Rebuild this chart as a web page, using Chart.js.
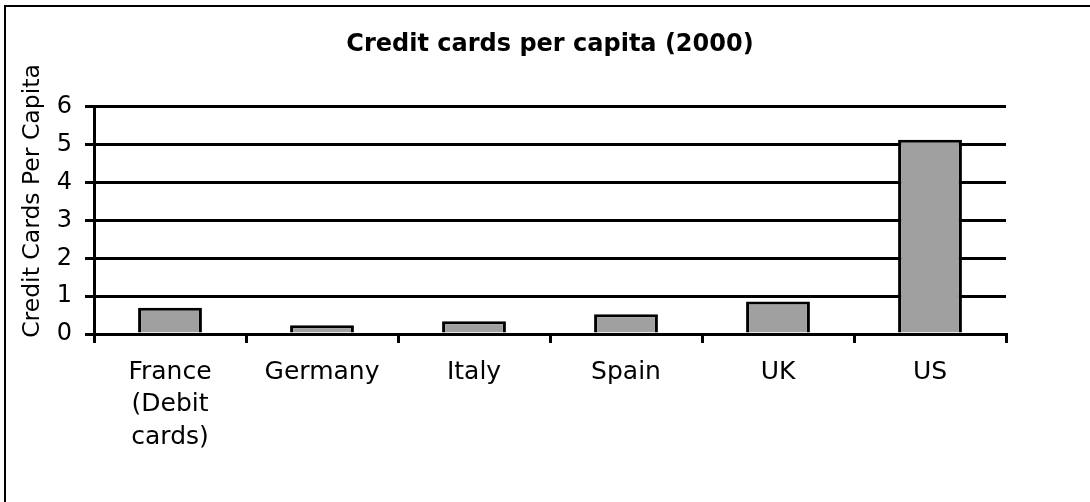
<!DOCTYPE html>
<html>
<head>
<meta charset="utf-8">
<script src="https://cdn.jsdelivr.net/npm/chart.js@4"></script>
<style>
  body { margin: 0; background: #fff; }
</style>
</head>
<body>
<canvas id="myChart" width="1090" height="502"></canvas>
<script>
const countries = [["France", "(Debit", "cards)"], "Germany", "Italy", "Spain", "UK", "US"];
const cardsPerCapita = [0.69, 0.23, 0.34, 0.52, 0.86, 5.13];
const yTicks = [0, 1, 2, 3, 4, 5, 6];
const yTitle = "Credit Cards Per Capita";

// white background, top/left frame lines and the y axis title
const frame = {
  id: "frame",
  beforeDraw(chart) {
    const c = chart.ctx;
    c.save();
    c.fillStyle = "#fff";
    c.fillRect(0, 0, chart.width, chart.height);
    c.fillStyle = "#000";
    c.fillRect(4, 5, chart.width - 4, 2);
    c.fillRect(4, 5, 2, chart.height - 5);
    c.restore();
  },
  afterDraw(chart) {
    const c = chart.ctx;
    c.save();
    c.translate(33, 201);
    c.rotate(-Math.PI / 2);
    c.fillStyle = "#000";
    c.font = "23.5px 'DejaVu Sans'";
    c.textAlign = "center";
    c.textBaseline = "middle";
    c.fillText(yTitle, 0, 0);
    c.restore();
  }
};

const ctx = document.getElementById("myChart").getContext("2d");
const myChart = new Chart(ctx, {
  type: "bar",
  data: {
    labels: countries,
    datasets: [
      {
        data: cardsPerCapita,
        backgroundColor: "#a0a0a0",
        borderColor: "#000",
        borderWidth: 3,
        categoryPercentage: 1,
        barPercentage: 0.42,
      },
    ],
  },
  options: {
    responsive: false,
    animation: false,
    layout: { padding: { left: 0, right: 84, top: 0, bottom: 8 } },
    plugins: {
      legend: { display: false },
      tooltip: { enabled: false },
      title: {
        display: true,
        fullSize: false,
        text: "Credit cards per capita (2000)",
        color: "#000",
        font: { family: "DejaVu Sans", size: 24, weight: "bold", lineHeight: 1.2 },
        padding: { top: 30, bottom: 48 },
      },
    },
    scales: {
      x: {
        grid: {
          drawOnChartArea: false,
          color: "#000",
          lineWidth: 3,
          tickLength: 9,
        },
        border: { color: "#000", width: 3 },
        ticks: {
          color: "#000",
          maxRotation: 0,
          autoSkip: false,
          padding: 13,
          font: { family: "DejaVu Sans", size: 25, lineHeight: 1.3 },
        },
        afterFit(scale) {
          scale.height = 160;
        },
      },
      y: {
        min: 0,
        max: 6,
        afterBuildTicks(scale) {
          scale.ticks = yTicks.map((v) => ({ value: v }));
        },
        grid: { color: "#000", lineWidth: 3, tickLength: 9 },
        border: { color: "#000", width: 3 },
        ticks: {
          color: "#000",
          padding: 13,
          font: { family: "DejaVu Sans", size: 24 },
        },
        afterFit(scale) {
          scale.width = 94;
        },
      },
    },
  },
  plugins: [frame],
});
</script>
</body>
</html>
